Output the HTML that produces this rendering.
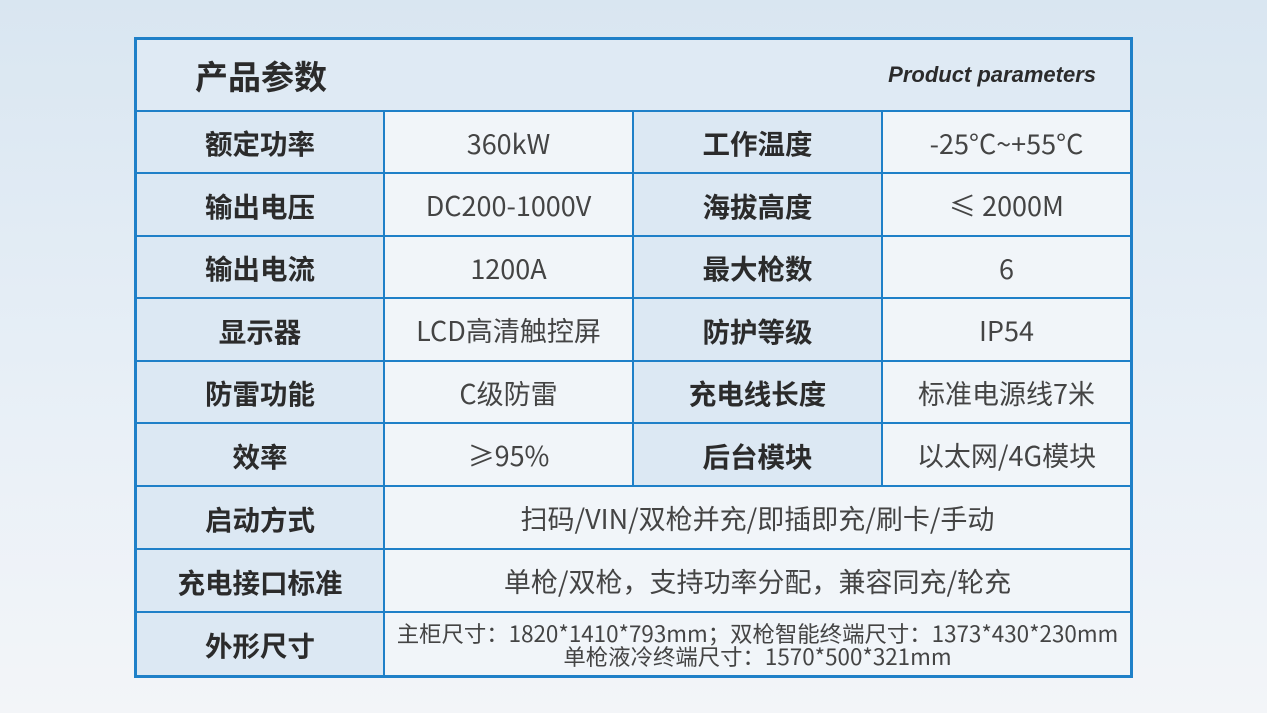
<!DOCTYPE html><html><head><meta charset="utf-8"><style>
body{margin:0;width:1267px;height:713px;overflow:hidden;background:linear-gradient(180deg,#d9e6f1 0%,#e9f0f7 60%,#f3f5f8 100%);font-family:"Noto Sans CJK SC",sans-serif;color:#333}
.c{position:absolute;display:flex;align-items:center;justify-content:center;box-sizing:border-box;border:1.5px solid #1f80c8;font-size:27px;text-align:center}
.l{background:#dce8f3;font-weight:bold;color:#2b2b2b;font-size:27.5px}
.v{background:#f1f5f9;color:#444}
</style></head><body>
<div style="position:absolute;left:134px;top:37px;width:999px;height:641px;border:2px solid #1f80c8;box-sizing:border-box"></div>
<div class="c l" style="left:136px;top:39px;width:995px;height:72px;justify-content:space-between;padding:0 34px 0 58px;background:#dfeaf4"><span style="font-size:33px">产品参数</span><span style="font-size:22px;font-style:italic;font-family:'Liberation Sans',sans-serif">Product parameters</span></div>
<div id="t"></div>
<script>
var rows=[["额定功率","360kW","工作温度","-25°C~+55°C"],["输出电压","DC200-1000V","海拔高度","≤ 2000M"],["输出电流","1200A","最大枪数","6"],["显示器","LCD高清触控屏","防护等级","IP54"],["防雷功能","C级防雷","充电线长度","标准电源线7米"],["效率","≥95%","后台模块","以太网/4G模块"],["启动方式","扫码/VIN/双枪并充/即插即充/刷卡/手动"],["充电接口标准","单枪/双枪，支持功率分配，兼容同充/轮充"],["外形尺寸","主柜尺寸：1820*1410*793mm；双枪智能终端尺寸：1373*430*230mm<br>单枪液冷终端尺寸：1570*500*321mm"]];
var ys=[111,173,236,298,361,423,486,549,612,676],xs=[136,384,633,882,1131],h="";
rows.forEach(function(r,i){var y=ys[i],hh=ys[i+1]-y;
if(r.length==4){r.forEach(function(t,j){h+='<div class="c '+(j%2?'v':'l')+'" style="left:'+xs[j]+'px;top:'+y+'px;width:'+(xs[j+1]-xs[j])+'px;height:'+hh+'px">'+t+'</div>'})}
else{h+='<div class="c l" style="left:136px;top:'+y+'px;width:248px;height:'+hh+'px">'+r[0]+'</div>';
h+='<div class="c v" style="left:384px;top:'+y+'px;width:747px;height:'+hh+'px;'+(i==8?'font-size:22.4px;line-height:23px;padding-top:2px;white-space:nowrap':'')+'">'+(i==8?'<div>'+r[1]+'</div>':r[1])+'</div>'}});
document.getElementById('t').innerHTML=h;
</script>
</body></html>
